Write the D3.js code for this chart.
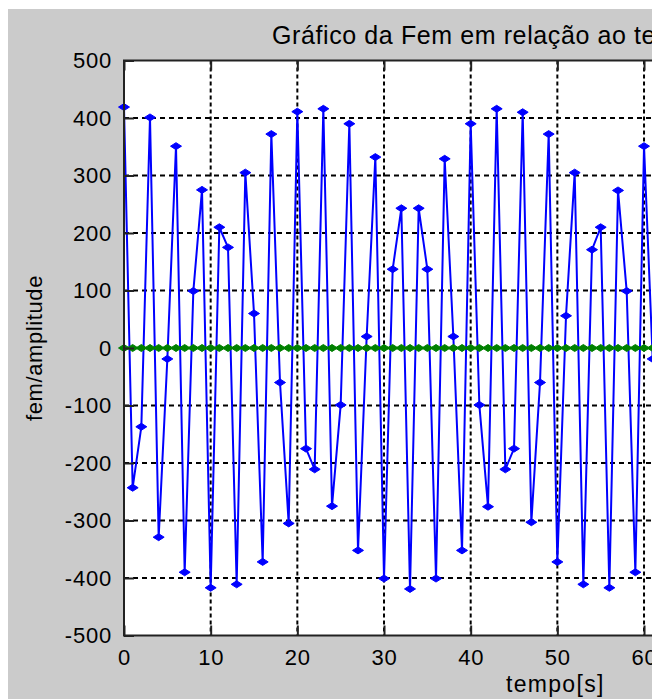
<!DOCTYPE html>
<html>
<head>
<meta charset="utf-8">
<script src="https://cdn.jsdelivr.net/npm/d3@7/dist/d3.min.js"></script>
<style>
  body { margin: 0; background: #fff; overflow: hidden; }
  text { font-family: "Liberation Sans", Arial, sans-serif; fill: #000; }
</style>
</head>
<body>
<svg id="chart"></svg>
<script>
// time samples (s)
const tempo = [0,1,2,3,4,5,6,7,8,9,10,11,12,13,14,15,16,17,18,19,20,
  21,22,23,24,25,26,27,28,29,30,31,32,33,34,35,36,37,38,39,40,
  41,42,43,44,45,46,47,48,49,50,51,52,53,54,55,56,57,58,59,60,61];

// blue series: fem
const fem = [419,-243,-137,401,-329,-19,351,-390,99,275,-417,
  210,175,-411,305,60,-372,372,-60,-305,411,
  -175,-211,416,-275,-99,390,-352,20,332,-401,
  137,243,-419,243,137,-401,329,20,-352,390,
  -99,-276,416,-211,-175,410,-303,-60,372,-372,
  56,305,-411,171,210,-417,274,99,-390,351,-19];

// green series: stays on zero
const amplitude = [0,0,0,0,0,0,0,0,0,0,0,0,0,0,0,0,0,0,0,0,0,
  0,0,0,0,0,0,0,0,0,0,0,0,0,0,0,0,0,0,0,0,
  0,0,0,0,0,0,0,0,0,0,0,0,0,0,0,0,0,0,0,0,0];

const xTicks = [0,10,20,30,40,50,60,70,80,90,100];
const yTicks = [-500,-400,-300,-200,-100,0,100,200,300,400,500];

const W = 652, H = 699;
const margin = { top: 60.5, left: 124 };
const width = 866.7, height = 575;

const svg = d3.select("#chart").attr("width", W).attr("height", H);

// figure background (gray with a thin white border top/left)
svg.append("rect").attr("width", W).attr("height", H).attr("fill", "#fff");
svg.append("rect").attr("x", 8).attr("y", 9).attr("width", W).attr("height", H)
  .attr("fill", "#cbcbcb");

const g = svg.append("g").attr("transform", `translate(${margin.left},${margin.top})`);

const x = d3.scaleLinear().domain([0, 100]).range([0, width]);
const y = d3.scaleLinear().domain([-500, 500]).range([height, 0]);

g.append("rect").attr("width", width).attr("height", height).attr("fill", "#fff");

// dotted grid
g.selectAll(".vgrid").data(xTicks.slice(1, -1)).enter().append("line")
  .attr("x1", d => x(d)).attr("x2", d => x(d)).attr("y1", 0).attr("y2", height)
  .attr("stroke", "#000").attr("stroke-width", 2).attr("stroke-dasharray", "4,3");
g.selectAll(".hgrid").data(yTicks.slice(1, -1)).enter().append("line")
  .attr("y1", d => y(d)).attr("y2", d => y(d)).attr("x1", 0).attr("x2", width)
  .attr("stroke", "#000").attr("stroke-width", 2).attr("stroke-dasharray", "5,4");

const marker = "M-5.5,0L0,-3.5L5.5,0L0,3.5Z";

function series(values, color) {
  const pts = tempo.map((t, i) => [t, values[i]]);
  g.append("path").datum(pts)
    .attr("fill", "none").attr("stroke", color).attr("stroke-width", 2)
    .attr("d", d3.line().x(d => x(d[0])).y(d => y(d[1])));
  g.selectAll(null).data(pts).enter().append("path")
    .attr("d", marker).attr("fill", color).attr("stroke", color).attr("stroke-width", 1)
    .attr("transform", d => `translate(${x(d[0])},${y(d[1])})`);
}
series(fem, "#0000ff");
series(amplitude, "#008000");

// axes box and ticks
g.append("rect").attr("width", width).attr("height", height)
  .attr("fill", "none").attr("stroke", "#222").attr("stroke-width", 2);

const fmt = d => String(d);
const xb = g.append("g").attr("transform", `translate(0,${height})`)
  .call(d3.axisBottom(x).tickValues(xTicks).tickFormat(fmt)
    .tickSizeInner(-10).tickSizeOuter(0).tickPadding(14));
const xt = g.append("g")
  .call(d3.axisTop(x).tickValues(xTicks).tickSizeInner(-10).tickSizeOuter(0).tickFormat(""));
const yl = g.append("g")
  .call(d3.axisLeft(y).tickValues(yTicks).tickFormat(fmt)
    .tickSizeInner(-10).tickSizeOuter(0).tickPadding(12));

[xb, xt, yl].forEach(a => {
  a.select(".domain").remove();
  a.selectAll(".tick line").attr("stroke", "#222").attr("stroke-width", 2);
  a.selectAll("text").style("font-size", "22px").style("letter-spacing", "0.8px")
    .attr("fill", "#000");
});

// titles
svg.append("text").attr("x", 272).attr("y", 44)
  .style("font-size", "25px").style("letter-spacing", "0.6px")
  .text("Gráfico da Fem em relação ao tempo");

svg.append("text").attr("x", margin.left + width / 2 - 2).attr("y", 692)
  .attr("text-anchor", "middle").style("font-size", "23px").style("letter-spacing", "1.3px")
  .text("tempo[s]");

svg.append("text")
  .attr("transform", `translate(42,${margin.top + height / 2}) rotate(-90)`)
  .attr("text-anchor", "middle").style("font-size", "22px").style("letter-spacing", "0.6px")
  .text("fem/amplitude");
</script>
</body>
</html>
